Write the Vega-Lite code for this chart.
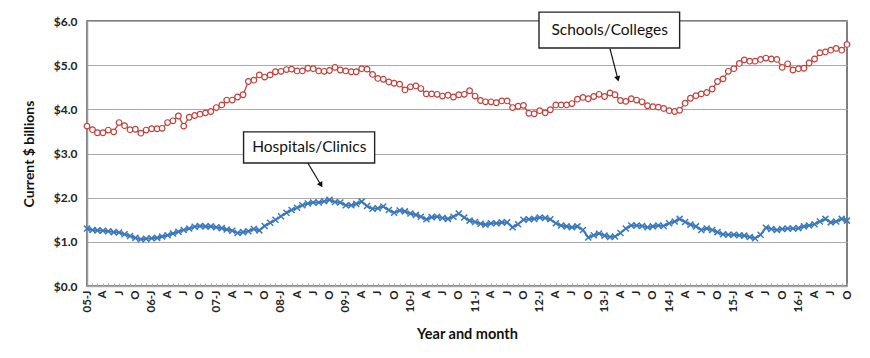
{
  "$schema": "https://vega.github.io/schema/vega-lite/v6.json",
  "width": 760,
  "height": 265,
  "autosize": {"type": "none"},
  "padding": {"left": 87, "top": 21, "right": 23, "bottom": 72},
  "config": {"view": {"stroke": "#555", "strokeWidth": 1.5}, "font": "Lato"},
  "datasets": {
    "main": [
      {"month":"2005-01","schools":3.62,"hospitals":1.30},{"month":"2005-02","schools":3.54,"hospitals":1.27},{"month":"2005-03","schools":3.47,"hospitals":1.26},{"month":"2005-04","schools":3.47,"hospitals":1.25},{"month":"2005-05","schools":3.53,"hospitals":1.24},{"month":"2005-06","schools":3.49,"hospitals":1.22},{"month":"2005-07","schools":3.70,"hospitals":1.21},{"month":"2005-08","schools":3.63,"hospitals":1.17},{"month":"2005-09","schools":3.54,"hospitals":1.13},{"month":"2005-10","schools":3.55,"hospitals":1.09},{"month":"2005-11","schools":3.46,"hospitals":1.06},{"month":"2005-12","schools":3.53,"hospitals":1.07},
      {"month":"2006-01","schools":3.56,"hospitals":1.08},{"month":"2006-02","schools":3.56,"hospitals":1.09},{"month":"2006-03","schools":3.57,"hospitals":1.12},{"month":"2006-04","schools":3.70,"hospitals":1.15},{"month":"2006-05","schools":3.74,"hospitals":1.19},{"month":"2006-06","schools":3.85,"hospitals":1.23},{"month":"2006-07","schools":3.62,"hospitals":1.27},{"month":"2006-08","schools":3.82,"hospitals":1.30},{"month":"2006-09","schools":3.86,"hospitals":1.34},{"month":"2006-10","schools":3.89,"hospitals":1.36},{"month":"2006-11","schools":3.92,"hospitals":1.35},{"month":"2006-12","schools":3.95,"hospitals":1.35},
      {"month":"2007-01","schools":4.04,"hospitals":1.33},{"month":"2007-02","schools":4.10,"hospitals":1.31},{"month":"2007-03","schools":4.21,"hospitals":1.28},{"month":"2007-04","schools":4.21,"hospitals":1.25},{"month":"2007-05","schools":4.28,"hospitals":1.20},{"month":"2007-06","schools":4.33,"hospitals":1.22},{"month":"2007-07","schools":4.63,"hospitals":1.24},{"month":"2007-08","schools":4.66,"hospitals":1.29},{"month":"2007-09","schools":4.78,"hospitals":1.26},{"month":"2007-10","schools":4.73,"hospitals":1.36},{"month":"2007-11","schools":4.78,"hospitals":1.43},{"month":"2007-12","schools":4.85,"hospitals":1.50},
      {"month":"2008-01","schools":4.86,"hospitals":1.58},{"month":"2008-02","schools":4.90,"hospitals":1.66},{"month":"2008-03","schools":4.91,"hospitals":1.72},{"month":"2008-04","schools":4.87,"hospitals":1.77},{"month":"2008-05","schools":4.87,"hospitals":1.83},{"month":"2008-06","schools":4.93,"hospitals":1.87},{"month":"2008-07","schools":4.92,"hospitals":1.89},{"month":"2008-08","schools":4.87,"hospitals":1.89},{"month":"2008-09","schools":4.86,"hospitals":1.92},{"month":"2008-10","schools":4.88,"hospitals":1.95},{"month":"2008-11","schools":4.95,"hospitals":1.90},{"month":"2008-12","schools":4.89,"hospitals":1.89},
      {"month":"2009-01","schools":4.87,"hospitals":1.83},{"month":"2009-02","schools":4.85,"hospitals":1.83},{"month":"2009-03","schools":4.85,"hospitals":1.86},{"month":"2009-04","schools":4.92,"hospitals":1.91},{"month":"2009-05","schools":4.91,"hospitals":1.81},{"month":"2009-06","schools":4.79,"hospitals":1.75},{"month":"2009-07","schools":4.70,"hospitals":1.76},{"month":"2009-08","schools":4.68,"hospitals":1.80},{"month":"2009-09","schools":4.62,"hospitals":1.72},{"month":"2009-10","schools":4.59,"hospitals":1.66},{"month":"2009-11","schools":4.57,"hospitals":1.71},{"month":"2009-12","schools":4.44,"hospitals":1.69},
      {"month":"2010-01","schools":4.51,"hospitals":1.64},{"month":"2010-02","schools":4.53,"hospitals":1.61},{"month":"2010-03","schools":4.47,"hospitals":1.57},{"month":"2010-04","schools":4.35,"hospitals":1.51},{"month":"2010-05","schools":4.35,"hospitals":1.56},{"month":"2010-06","schools":4.34,"hospitals":1.57},{"month":"2010-07","schools":4.30,"hospitals":1.54},{"month":"2010-08","schools":4.32,"hospitals":1.52},{"month":"2010-09","schools":4.28,"hospitals":1.57},{"month":"2010-10","schools":4.33,"hospitals":1.64},{"month":"2010-11","schools":4.34,"hospitals":1.55},{"month":"2010-12","schools":4.42,"hospitals":1.48},
      {"month":"2011-01","schools":4.30,"hospitals":1.45},{"month":"2011-02","schools":4.20,"hospitals":1.41},{"month":"2011-03","schools":4.17,"hospitals":1.39},{"month":"2011-04","schools":4.17,"hospitals":1.42},{"month":"2011-05","schools":4.15,"hospitals":1.42},{"month":"2011-06","schools":4.19,"hospitals":1.44},{"month":"2011-07","schools":4.19,"hospitals":1.44},{"month":"2011-08","schools":4.04,"hospitals":1.33},{"month":"2011-09","schools":4.07,"hospitals":1.40},{"month":"2011-10","schools":4.09,"hospitals":1.50},{"month":"2011-11","schools":3.91,"hospitals":1.51},{"month":"2011-12","schools":3.90,"hospitals":1.52},
      {"month":"2012-01","schools":3.97,"hospitals":1.55},{"month":"2012-02","schools":3.92,"hospitals":1.54},{"month":"2012-03","schools":3.99,"hospitals":1.51},{"month":"2012-04","schools":4.10,"hospitals":1.42},{"month":"2012-05","schools":4.10,"hospitals":1.37},{"month":"2012-06","schools":4.10,"hospitals":1.35},{"month":"2012-07","schools":4.13,"hospitals":1.33},{"month":"2012-08","schools":4.23,"hospitals":1.35},{"month":"2012-09","schools":4.27,"hospitals":1.27},{"month":"2012-10","schools":4.24,"hospitals":1.10},{"month":"2012-11","schools":4.29,"hospitals":1.15},{"month":"2012-12","schools":4.34,"hospitals":1.19},
      {"month":"2013-01","schools":4.29,"hospitals":1.14},{"month":"2013-02","schools":4.37,"hospitals":1.11},{"month":"2013-03","schools":4.33,"hospitals":1.12},{"month":"2013-04","schools":4.20,"hospitals":1.20},{"month":"2013-05","schools":4.18,"hospitals":1.30},{"month":"2013-06","schools":4.24,"hospitals":1.37},{"month":"2013-07","schools":4.21,"hospitals":1.37},{"month":"2013-08","schools":4.17,"hospitals":1.36},{"month":"2013-09","schools":4.08,"hospitals":1.33},{"month":"2013-10","schools":4.06,"hospitals":1.35},{"month":"2013-11","schools":4.05,"hospitals":1.37},{"month":"2013-12","schools":4.02,"hospitals":1.36},
      {"month":"2014-01","schools":3.97,"hospitals":1.42},{"month":"2014-02","schools":3.95,"hospitals":1.46},{"month":"2014-03","schools":3.98,"hospitals":1.52},{"month":"2014-04","schools":4.14,"hospitals":1.45},{"month":"2014-05","schools":4.25,"hospitals":1.39},{"month":"2014-06","schools":4.31,"hospitals":1.35},{"month":"2014-07","schools":4.35,"hospitals":1.27},{"month":"2014-08","schools":4.38,"hospitals":1.30},{"month":"2014-09","schools":4.46,"hospitals":1.27},{"month":"2014-10","schools":4.63,"hospitals":1.22},{"month":"2014-11","schools":4.69,"hospitals":1.17},{"month":"2014-12","schools":4.86,"hospitals":1.16},
      {"month":"2015-01","schools":4.92,"hospitals":1.16},{"month":"2015-02","schools":5.04,"hospitals":1.15},{"month":"2015-03","schools":5.12,"hospitals":1.14},{"month":"2015-04","schools":5.09,"hospitals":1.11},{"month":"2015-05","schools":5.09,"hospitals":1.08},{"month":"2015-06","schools":5.13,"hospitals":1.16},{"month":"2015-07","schools":5.16,"hospitals":1.32},{"month":"2015-08","schools":5.14,"hospitals":1.29},{"month":"2015-09","schools":5.13,"hospitals":1.27},{"month":"2015-10","schools":4.95,"hospitals":1.29},{"month":"2015-11","schools":5.03,"hospitals":1.30},{"month":"2015-12","schools":4.89,"hospitals":1.30},
      {"month":"2016-01","schools":4.92,"hospitals":1.31},{"month":"2016-02","schools":4.93,"hospitals":1.35},{"month":"2016-03","schools":5.05,"hospitals":1.37},{"month":"2016-04","schools":5.14,"hospitals":1.40},{"month":"2016-05","schools":5.28,"hospitals":1.46},{"month":"2016-06","schools":5.30,"hospitals":1.52},{"month":"2016-07","schools":5.34,"hospitals":1.44},{"month":"2016-08","schools":5.38,"hospitals":1.46},{"month":"2016-09","schools":5.34,"hospitals":1.52},{"month":"2016-10","schools":5.47,"hospitals":1.48}
    ],
    "boxes": [
      {"label":"Schools/Colleges","xa":"2011-12-28","xb":"2014-03-01","ya":5.39,"yb":6.20,"xt":"2013-01-30","yt":5.80},
      {"label":"Hospitals/Clinics","xa":"2007-06-04","xb":"2009-06-13","ya":2.785,"yb":3.49,"xt":"2008-06-09","yt":3.136}
    ],
    "arrows": [
      {"label":"Schools/Colleges","xa":"2013-02-01","ya":5.37,"xb":"2013-03-17","yb":4.69},
      {"label":"Hospitals/Clinics","xa":"2008-06-01","ya":2.785,"xb":"2008-08-14","yb":2.287}
    ]
  },
  "encoding": {
    "x": {
      "field": "month",
      "type": "temporal",
      "scale": {"type": "utc", "domain": [{"year": 2005, "month": 1, "date": 1, "utc": true}, {"year": 2016, "month": 10, "date": 1, "utc": true}], "nice": false},
      "axis": {
        "title": "Year and month",
        "tickCount": {"interval": "month", "step": 1},
        "labelExpr": "utcmonth(datum.value)==0 ? utcFormat(datum.value,'%y')+'-J' : utcmonth(datum.value)==3 ? 'A' : utcmonth(datum.value)==6 ? 'J' : utcmonth(datum.value)==9 ? 'O' : ''",
        "labelAngle": 270,
        "labelOverlap": false,
        "labelBound": false,
        "labelFlush": false,
        "grid": false,
        "tickSize": -3,
        "tickColor": "#aaa",
        "domainColor": "#aaa",
        "domainWidth": 1.5,
        "labelPadding": 7,
        "labelFont": "Lato",
        "labelFontWeight": "bold",
        "labelFontSize": 11.5,
        "labelColor": "#222",
        "titleFont": "Lato",
        "titleFontSize": 14.5,
        "titleFontWeight": "bold",
        "titleColor": "#111",
        "titlePadding": 16
      }
    },
    "y": {
      "field": "schools",
      "type": "quantitative",
      "scale": {"domain": [0, 6], "nice": false},
      "axis": {
        "title": "Current $ billions",
        "values": [0, 1, 2, 3, 4, 5, 6],
        "format": "$.1f",
        "grid": true,
        "gridColor": "#aaa",
        "gridWidth": 1.2,
        "ticks": false,
        "domainColor": "#999",
        "domainWidth": 1.5,
        "labelFont": "Lato",
        "labelFontWeight": "bold",
        "labelFontSize": 12,
        "labelColor": "#222",
        "labelPadding": 10,
        "titleFont": "Lato",
        "titleFontSize": 14,
        "titleFontWeight": "bold",
        "titleColor": "#111",
        "titlePadding": 17
      }
    }
  },
  "layer": [
    {"data": {"name": "main"}, "mark": {"type": "line", "color": "#c43c35", "strokeWidth": 1.2}},
    {"data": {"name": "main"}, "mark": {"type": "point", "shape": "circle", "filled": true, "fill": "white", "stroke": "#c43c35", "strokeWidth": 1.2, "size": 32, "opacity": 1}},
    {"data": {"name": "main"}, "mark": {"type": "line", "color": "#3a78be", "strokeWidth": 2}, "encoding": {"y": {"field": "hospitals", "type": "quantitative"}}},
    {"data": {"name": "main"}, "mark": {"type": "point", "shape": "M-1,-1L1,1M-1,1L1,-1", "filled": false, "stroke": "#3a78be", "strokeWidth": 1.5, "size": 36, "opacity": 1}, "encoding": {"y": {"field": "hospitals", "type": "quantitative"}}},
    {"data": {"name": "boxes"}, "mark": {"type": "rect", "fill": "white", "stroke": "#222", "strokeWidth": 1.4}, "encoding": {"x": {"field": "xa", "type": "temporal"}, "x2": {"field": "xb"}, "y": {"field": "ya", "type": "quantitative"}, "y2": {"field": "yb"}}},
    {"data": {"name": "boxes"}, "mark": {"type": "text", "font": "Lato", "fontSize": 15.5, "color": "#111", "align": "center", "baseline": "middle"}, "encoding": {"x": {"field": "xt", "type": "temporal"}, "y": {"field": "yt", "type": "quantitative"}, "text": {"field": "label"}}},
    {"data": {"name": "arrows"}, "mark": {"type": "rule", "color": "#111", "strokeWidth": 1.2}, "encoding": {"x": {"field": "xa", "type": "temporal"}, "x2": {"field": "xb"}, "y": {"field": "ya", "type": "quantitative"}, "y2": {"field": "yb"}}},
    {"data": {"name": "arrows"}, "transform": [{"filter": "datum.label == 'Schools/Colleges'"}], "mark": {"type": "point", "shape": "triangle-down", "filled": true, "color": "#111", "size": 40, "opacity": 1, "angle": -15}, "encoding": {"x": {"field": "xb", "type": "temporal"}, "y": {"field": "yb", "type": "quantitative"}}},
    {"data": {"name": "arrows"}, "transform": [{"filter": "datum.label == 'Hospitals/Clinics'"}], "mark": {"type": "point", "shape": "triangle-down", "filled": true, "color": "#111", "size": 40, "opacity": 1, "angle": -31}, "encoding": {"x": {"field": "xb", "type": "temporal"}, "y": {"field": "yb", "type": "quantitative"}}}
  ]
}
